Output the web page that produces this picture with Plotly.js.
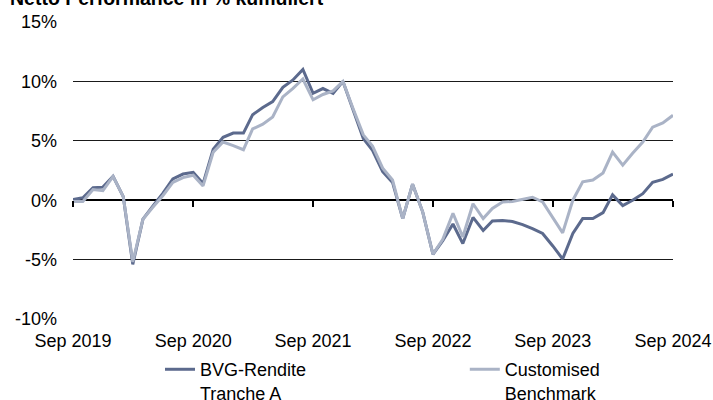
<!DOCTYPE html>
<html>
<head>
<meta charset="utf-8">
<script src="https://cdn.plot.ly/plotly-3.0.1.min.js"></script>
<style>
html, body { margin: 0; padding: 0; background: #fff; }
#chart { width: 713px; height: 400px; }
</style>
</head>
<body>
<div id="chart"></div>
<script>
// Monthly cumulative net performance in %, Sep 2019 .. Sep 2024
var startYear = 2019, startMonth = 9, monthCount = 61;

var bvgRendite = [
  0.05, 0.2, 1.05, 1.1, 2.0, 0.3, -5.4, -1.6, -0.5, 0.6, 1.8, 2.2,
  2.35, 1.4, 4.3, 5.3, 5.65, 5.65, 7.2, 7.8, 8.3, 9.5, 10.1, 11.0,
  9.0, 9.4, 9.0, 10.0, 7.6, 5.2, 4.2, 2.4, 1.5, -1.55, 1.35, -1.0,
  -4.55, -3.4, -2.0, -3.65, -1.45, -2.55, -1.75, -1.7, -1.8, -2.05, -2.4, -2.8,
  -3.85, -4.95, -2.8, -1.55, -1.55, -1.05, 0.45, -0.45, 0.0, 0.55, 1.5, 1.75,
  2.2
];

var benchmark = [
  -0.1, -0.1, 0.9, 0.8, 2.0, 0.3, -5.2, -1.6, -0.6, 0.4, 1.5, 1.9,
  2.1, 1.2, 4.05, 4.9, 4.6, 4.25, 6.0, 6.4, 7.0, 8.7, 9.4, 10.2,
  8.45, 8.9, 9.2, 10.0, 7.7, 5.5, 4.55, 2.7, 1.7, -1.55, 1.35, -1.0,
  -4.55, -3.3, -1.1, -3.1, -0.3, -1.55, -0.7, -0.15, -0.1, 0.1, 0.25, -0.15,
  -1.45, -2.75, 0.0, 1.55, 1.7, 2.3, 4.05, 2.95, 3.95, 4.9, 6.15, 6.5,
  7.15
];

var xTickVals = ['2019-09-01', '2020-09-01', '2021-09-01', '2022-09-01', '2023-09-01', '2024-09-01'];
var xTickText = ['Sep 2019', 'Sep 2020', 'Sep 2021', 'Sep 2022', 'Sep 2023', 'Sep 2024'];
var yTickVals = [-10, -5, 0, 5, 10, 15];
var yTickText = ['-10%', '-5%', '0%', '5%', '10%', '15%'];
var seriesNames = ['BVG-Rendite<br>Tranche A', 'Customised<br>Benchmark'];
var chartTitle = 'Netto Performance in % kumuliert';

var months = [];
for (var i = 0; i < monthCount; i++) {
  var m = startMonth - 1 + i;
  var y = startYear + Math.floor(m / 12);
  var mm = (m % 12) + 1;
  months.push(y + '-' + (mm < 10 ? '0' : '') + mm + '-01');
}

var FONT = 'Liberation Sans, Arial, sans-serif';

var traces = [
  {
    x: months, y: bvgRendite, name: seriesNames[0], type: 'scatter', mode: 'lines',
    line: { color: '#5c6a8d', width: 3 }, hoverinfo: 'skip', legend: 'legend'
  },
  {
    x: months, y: benchmark, name: seriesNames[1], type: 'scatter', mode: 'lines',
    line: { color: '#aab3c6', width: 3 }, hoverinfo: 'skip', legend: 'legend2'
  }
];

var legendCommon = {
  orientation: 'h',
  xanchor: 'left',
  yanchor: 'top',
  valign: 'top',
  font: { family: FONT, size: 18, color: '#000000' },
  bgcolor: 'rgba(0,0,0,0)'
};

var layout = {
  width: 713, height: 400,
  margin: { l: 73, r: 40, t: 22, b: 81, pad: 0, autoexpand: false },
  paper_bgcolor: '#ffffff', plot_bgcolor: '#ffffff',
  font: { family: FONT, size: 18, color: '#000000' },
  showlegend: true,
  xaxis: {
    type: 'date',
    range: [xTickVals[0], xTickVals[xTickVals.length - 1]],
    tickmode: 'array', tickvals: xTickVals, ticktext: xTickText,
    showgrid: false, zeroline: false, showline: false,
    anchor: 'free', position: 0.4,
    ticks: 'outside', ticklen: 6, tickwidth: 1.5, tickcolor: '#000000',
    ticklabelstandoff: 118,
    tickfont: { family: FONT, size: 18, color: '#000000' },
    automargin: false,
    fixedrange: true
  },
  yaxis: {
    range: [-10, 15],
    tickmode: 'array', tickvals: yTickVals, ticktext: yTickText,
    showgrid: true, gridcolor: '#1a1a1a', gridwidth: 1,
    zeroline: true, zerolinecolor: '#000000', zerolinewidth: 2.5,
    showline: false, ticks: '',
    ticklabelstandoff: 15,
    tickfont: { family: FONT, size: 18, color: '#000000' },
    automargin: false,
    fixedrange: true
  },
  legend: Object.assign({}, legendCommon, { x: 0.145, y: -0.108 }),
  legend2: Object.assign({}, legendCommon, { x: 0.653, y: -0.108 }),
  annotations: [
    {
      text: '<b>' + chartTitle + '</b>',
      xref: 'paper', yref: 'paper',
      x: -0.108, xanchor: 'left',
      y: 1, yanchor: 'bottom', yshift: 11,
      showarrow: false,
      font: { family: FONT, size: 19.5, color: '#000000' }
    }
  ]
};

Plotly.newPlot('chart', traces, layout, { displayModeBar: false, staticPlot: true });
</script>
</body>
</html>
